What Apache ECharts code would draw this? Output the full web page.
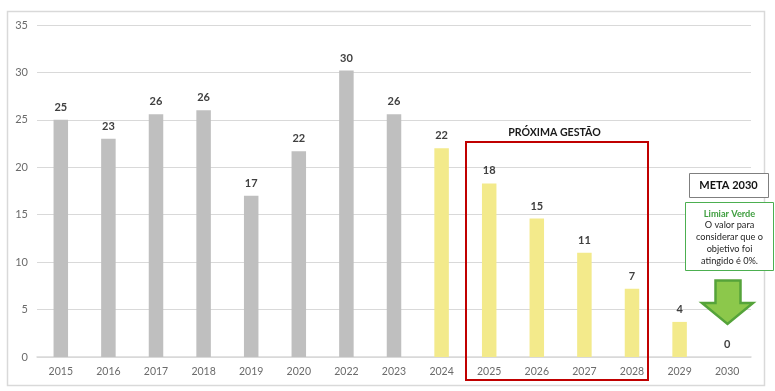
<!DOCTYPE html>
<html>
<head>
<meta charset="utf-8">
<style>html,body{margin:0;padding:0;background:#fff}#c{width:775px;height:391px}</style>
<script src="https://cdn.jsdelivr.net/npm/echarts@6/dist/echarts.min.js"></script>
</head>
<body>
<div id="c"></div>
<script>
const years = ['2015','2016','2017','2018','2019','2020','2022','2023','2024','2025','2026','2027','2028','2029','2030'];
const values = [25, 23, 25.6, 26, 17, 21.7, 30.2, 25.6, 22, 18.3, 14.6, 11, 7.2, 3.7, 0];
const barColors = ['#bfbfbf','#bfbfbf','#bfbfbf','#bfbfbf','#bfbfbf','#bfbfbf','#bfbfbf','#bfbfbf','#f3ea8b','#f3ea8b','#f3ea8b','#f3ea8b','#f3ea8b','#f3ea8b','#f3ea8b'];
const font = 'Lato, "Open Sans", sans-serif';
const chart = echarts.init(document.getElementById('c'), null, {renderer:'canvas'});
chart.setOption({
  animation:false,
  backgroundColor:'#ffffff',
  grid:{left:37,right:24,top:25,bottom:34,containLabel:false},
  xAxis:{type:'category',data:years,
    axisLine:{show:true,lineStyle:{color:'#d9d9d9',width:1.5}},
    axisTick:{show:false},
    axisLabel:{color:'#6b6b6b',fontFamily:font,fontSize:10.5,margin:9,interval:0}},
  yAxis:{type:'value',min:0,max:35,interval:5,
    axisLine:{show:false},axisTick:{show:false},
    splitLine:{lineStyle:{color:'#d9d9d9',width:1}},
    axisLabel:{color:'#6b6b6b',fontFamily:font,fontSize:11,margin:9}},
  series:[{type:'bar',barWidth:14.5,
    data:values.map((v,i)=>({value:v,itemStyle:{color:barColors[i]}})),
    label:{show:true,position:'top',distance:7,color:'#404040',fontFamily:font,fontSize:11,fontWeight:'bold',
      formatter:p=>String(Math.round(p.value))}}],
  graphic:[
    {type:'rect',z:10,shape:{x:7.5,y:11.5,width:757,height:374},style:{fill:'none',stroke:'#d9d9d9',lineWidth:1.5}},
    {type:'rect',z:11,shape:{x:466,y:142,width:182,height:238},style:{fill:'none',stroke:'#c00000',lineWidth:2}},
    {type:'text',z:11,x:554.5,y:133,style:{text:'PRÓXIMA GESTÃO',fill:'#1a1a1a',font:'bold 10.6px '+font,align:'center',verticalAlign:'middle'}},
    {type:'rect',z:11,shape:{x:689.5,y:173.5,width:79,height:24},style:{fill:'#fff',stroke:'#7f7f7f',lineWidth:1}},
    {type:'text',z:12,x:728.5,y:185.5,style:{text:'META 2030',fill:'#111',font:'bold 11px '+font,align:'center',verticalAlign:'middle'}},
    {type:'rect',z:11,shape:{x:685.5,y:202.5,width:88,height:68},style:{fill:'#fff',stroke:'#4caf50',lineWidth:1}},
    {type:'text',z:12,x:729.5,y:214,style:{text:'Limiar Verde',fill:'#3f9e3f',font:'bold 9.2px '+font,align:'center',verticalAlign:'middle'}},
    {type:'text',z:12,x:729.5,y:243,style:{text:'O valor para\nconsiderar que o\nobjetivo foi\natingido é 0%.',fill:'#262626',font:'9.2px '+font,lineHeight:12,align:'center',verticalAlign:'middle'}},
    {type:'polygon',z:11,shape:{points:[[715.5,280.5],[740.5,280.5],[740.5,303],[753,303],[727.5,324],[702,303],[715.5,303]]},style:{fill:'#8cc84b',stroke:'#55a33a',lineWidth:2.5}}
  ]
});
</script>
</body>
</html>
